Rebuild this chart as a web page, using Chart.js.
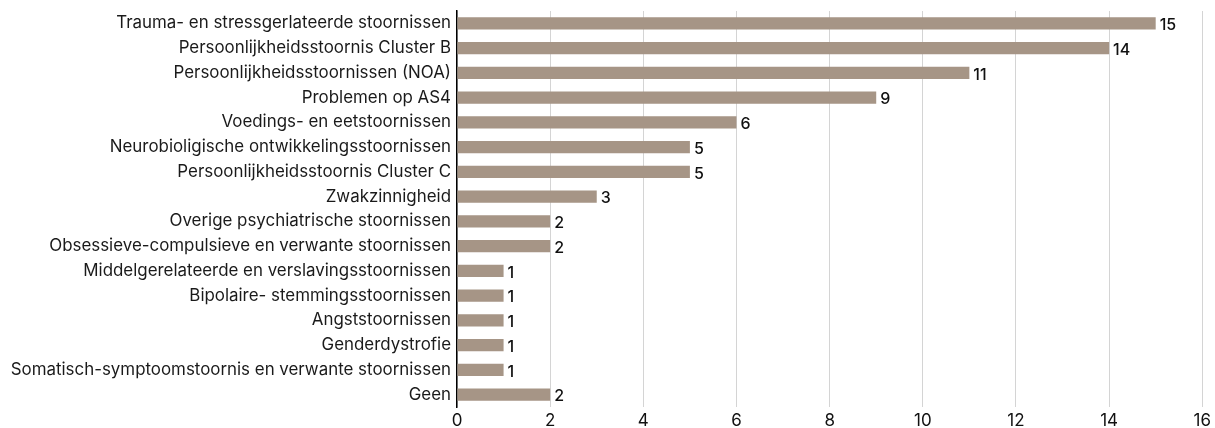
<!DOCTYPE html>
<html>
<head>
<meta charset="utf-8">
<script src="https://cdn.jsdelivr.net/npm/chart.js@4/dist/chart.umd.min.js"></script>
<style>
  html, body { margin: 0; padding: 0; background: #fff; }
  #wrap { width: 1215px; height: 428px; position: relative; }
</style>
</head>
<body>
<div id="wrap"><canvas id="myChart"></canvas></div>
<script>
const categories = [
    'Trauma- en stressgerlateerde stoornissen',
    'Persoonlijkheidsstoornis Cluster B',
    'Persoonlijkheidsstoornissen (NOA)',
    'Problemen op AS4',
    'Voedings- en eetstoornissen',
    'Neurobioligische ontwikkelingsstoornissen',
    'Persoonlijkheidsstoornis Cluster C',
    'Zwakzinnigheid',
    'Overige psychiatrische stoornissen',
    'Obsessieve-compulsieve en verwante stoornissen',
    'Middelgerelateerde en verslavingsstoornissen',
    'Bipolaire- stemmingsstoornissen',
    'Angststoornissen',
    'Genderdystrofie',
    'Somatisch-symptoomstoornis en verwante stoornissen',
    'Geen'
];
const counts = [15, 14, 11, 9, 6, 5, 5, 3, 2, 2, 1, 1, 1, 1, 1, 2];
const xTicks = [0, 2, 4, 6, 8, 10, 12, 14, 16];

const fontFamily = 'Inter, "Noto Sans", sans-serif';

// draws the value next to each bar end
const valueLabels = {
    id: 'valueLabels',
    afterDatasetsDraw(chart) {
        const ctx = chart.ctx;
        const meta = chart.getDatasetMeta(0);
        ctx.save();
        ctx.font = '500 16px ' + fontFamily;
        ctx.fillStyle = '#111';
        ctx.textAlign = 'left';
        ctx.textBaseline = 'middle';
        meta.data.forEach((bar, i) => {
            ctx.fillText(String(counts[i]), bar.x + 4, bar.y + 2);
        });
        ctx.restore();
    }
};

const data = {
    labels: categories,
    datasets: [{
        label: 'Aantal',
        data: counts,
        backgroundColor: '#a69586',
        borderWidth: 0,
        categoryPercentage: 1.0,
        barPercentage: 0.5
    }]
};

const config = {
    type: 'bar',
    data,
    plugins: [valueLabels],
    options: {
        indexAxis: 'y',
        responsive: true,
        maintainAspectRatio: false,
        animation: false,
        layout: {
            padding: { top: 11, right: 10, left: 0, bottom: 0 }
        },
        scales: {
            x: {
                min: 0,
                max: 16,
                afterBuildTicks(axis) {
                    axis.ticks = xTicks.map(v => ({ value: v }));
                },
                afterFit(axis) { axis.height = 21; },
                grid: {
                    color: '#d4d4d4',
                    lineWidth: 1,
                    drawTicks: false
                },
                border: { display: false },
                ticks: {
                    padding: 4,
                    color: '#111',
                    font: { family: fontFamily, size: 17 }
                }
            },
            y: {
                afterFit(axis) {
                    axis.width = 457;
                    axis.paddingTop = 0;
                    axis.paddingBottom = 0;
                },
                grid: { display: false, drawTicks: false },
                border: { display: true, color: '#000', width: 1.5 },
                ticks: {
                    padding: 6,
                    autoSkip: false,
                    color: '#1a1a1a',
                    font: { family: fontFamily, size: 16.9 }
                }
            }
        },
        plugins: {
            legend: { display: false },
            tooltip: { enabled: false },
            title: { display: false }
        }
    }
};

var myChart = new Chart(
    document.getElementById('myChart'),
    config
);
</script>
</body>
</html>
